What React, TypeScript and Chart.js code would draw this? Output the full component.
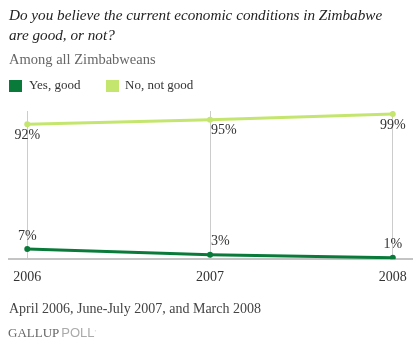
import React, { useEffect, useRef } from "react";
import { Chart, registerables } from "chart.js";

Chart.register(...registerables);

const years = [2006, 2007, 2008];
const yesGood = [7, 3, 1];
const notGood = [92, 95, 99];
const seriesNames = ["Yes, good", "No, not good"];
const darkGreen = "#0A7A3A";
const lightGreen = "#C4E66E";

const SERIF = "'Liberation Serif', 'DejaVu Serif', serif";

const labelPlugin = {
  id: "pctLabels",
  afterDatasetsDraw(chart: any) {
    const ctx = chart.ctx;
    ctx.save();
    ctx.font = `14px ${SERIF}`;
    ctx.fillStyle = "#333";
    ctx.textBaseline = "middle";
    chart.data.datasets.forEach((ds: any, di: number) => {
      const meta = chart.getDatasetMeta(di);
      meta.data.forEach((pt: any, i: number) => {
        const v = ds.data[i].y;
        const n = meta.data.length;
        let x = pt.x;
        if (i === 0 || i === n - 1) {
          ctx.textAlign = "center";
        } else {
          ctx.textAlign = "left";
          x = pt.x + 1;
        }
        const y = di === 0 ? pt.y - 13 : pt.y + 11;
        ctx.fillText(`${v}%`, x, y);
      });
    });
    ctx.restore();
  },
};

export default function App() {
  const ref = useRef<HTMLCanvasElement | null>(null);
  useEffect(() => {
    if (!ref.current) return;
    const chart = new Chart(ref.current, {
      type: "line",
      data: {
        datasets: [
          {
            label: seriesNames[0],
            data: years.map((y, i) => ({ x: y, y: yesGood[i] })),
            borderColor: darkGreen,
            backgroundColor: darkGreen,
            borderWidth: 3,
            pointRadius: 3,
            pointBorderWidth: 0,
            tension: 0,
          },
          {
            label: seriesNames[1],
            data: years.map((y, i) => ({ x: y, y: notGood[i] })),
            borderColor: lightGreen,
            backgroundColor: lightGreen,
            borderWidth: 3,
            pointRadius: 3,
            pointBorderWidth: 0,
            tension: 0,
          },
        ],
      },
      options: {
        responsive: false,
        animation: false,
        layout: { padding: { top: 111, left: 9, right: 7, bottom: 58 } },
        plugins: { legend: { display: false }, tooltip: { enabled: false } },
        scales: {
          x: {
            type: "linear",
            min: 2005.9,
            max: 2008.105,
            afterBuildTicks: (axis: any) => {
              axis.ticks = years.map((v) => ({ value: v }));
            },
            grid: { display: true, color: "#cccccc", lineWidth: 1, drawTicks: false },
            border: { display: true, color: "#c4c4c4", width: 2 },
            ticks: {
              padding: 10,
              color: "#333",
              font: { family: SERIF, size: 14 },
              callback: (v: any) => String(v),
              maxRotation: 0,
            },
          },
          y: {
            display: false,
            min: 0,
            max: 101,
          },
        },
      },
      plugins: [labelPlugin],
    });
    return () => chart.destroy();
  }, []);

  const abs = (o: any): React.CSSProperties => ({ position: "absolute", whiteSpace: "nowrap", ...o });

  return (
    <div style={{ position: "absolute", left: 0, top: 0, width: 419, height: 354, background: "#fff", overflow: "hidden" }}>
      <canvas ref={ref} width={419} height={354} style={{ position: "absolute", left: 0, top: 0, width: 419, height: 354 }} />
      <div style={abs({ left: 9, top: 5, fontFamily: SERIF, fontStyle: "italic", fontSize: 15.2, lineHeight: "20px", color: "#222" })}>
        Do you believe the current economic conditions in Zimbabwe
        <br />
        are good, or not?
      </div>
      <div style={abs({ left: 9, top: 50, fontFamily: SERIF, fontSize: 14.5, lineHeight: "18px", color: "#666" })}>
        Among all Zimbabweans
      </div>
      <div style={abs({ left: 9, top: 80, width: 13, height: 12, background: darkGreen })} />
      <div style={abs({ left: 29, top: 77, fontFamily: SERIF, fontSize: 13, lineHeight: "16px", color: "#333" })}>
        {seriesNames[0]}
      </div>
      <div style={abs({ left: 106, top: 80, width: 13, height: 12, background: lightGreen })} />
      <div style={abs({ left: 125, top: 77, fontFamily: SERIF, fontSize: 13, lineHeight: "16px", color: "#333" })}>
        {seriesNames[1]}
      </div>
      <div style={abs({ left: 9, top: 300, fontFamily: SERIF, fontSize: 14, lineHeight: "18px", color: "#444" })}>
        April 2006, June-July 2007, and March 2008
      </div>
      <div style={abs({ left: 8, top: 325, fontSize: 13, lineHeight: "16px" })}>
        <span style={{ fontFamily: SERIF, color: "#666" }}>GALLUP</span>
        <span style={{ fontFamily: "'Liberation Sans', Arial, sans-serif", color: "#aaa", marginLeft: 2 }}>POLL</span>
        <span style={{ fontFamily: "'Liberation Sans', Arial, sans-serif", color: "#ccc", fontSize: 8, verticalAlign: "top" }}>'</span>
      </div>
    </div>
  );
}
